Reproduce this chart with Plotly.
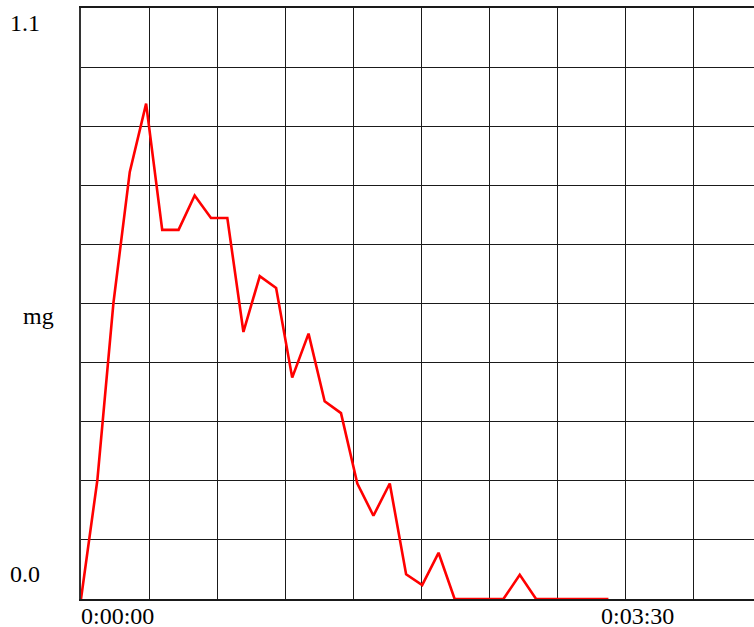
import plotly.graph_objects as go

# sample times in seconds
time_s = [0, 6.6, 13.1, 19.7, 26.3, 32.8, 39.4, 45.9, 52.5, 59.1, 65.6, 72.2,
          78.8, 85.3, 91.9, 98.4, 105.0, 111.6, 118.1, 124.7, 131.3, 137.8,
          144.4, 150.9, 157.5, 164.1, 170.6, 177.2, 183.8, 190.3, 196.9,
          203.4, 210.0, 213.0]
mg = [0.0, 0.221, 0.551, 0.795, 0.922, 0.687, 0.687, 0.751, 0.709, 0.709,
      0.497, 0.601, 0.579, 0.412, 0.494, 0.368, 0.346, 0.215, 0.155, 0.215,
      0.046, 0.026, 0.086, 0.0, 0.0, 0.0, 0.0, 0.045, 0.0, 0.0, 0.0, 0.0,
      0.0, 0.0]

x_labels = ["0:00:00", "0:03:30"]
x_label_pos = [0, 210]
y_labels = ["1.1", "mg", "0.0"]

FONT = "Liberation Serif"

fig = go.Figure()
fig.add_trace(go.Scatter(x=time_s, y=mg, mode="lines",
                         line=dict(color="#ff0000", width=2.6),
                         hoverinfo="skip", showlegend=False))

# body margin removed in post_script: figure coords = page coords
OFF = 0
W, H = 754, 627
L, T, B = 81, 8, 28
pw = W - L
ph = H - T - B


def px_x(p):
    return (p - OFF - L) / pw


def px_y(p):
    return (H - B - (p - OFF)) / ph


annotations = []
for lab, xp in zip(x_labels, x_label_pos):
    annotations.append(dict(x=xp, xref="x", y=px_y(616), yref="paper",
                            text=lab, showarrow=False, xanchor="left",
                            yanchor="middle", xshift=-2,
                            font=dict(family=FONT, size=24, color="black")))
annotations.append(dict(x=px_x(7.5), xref="paper", y=px_y(23), yref="paper",
                        text=y_labels[0], showarrow=False, xanchor="left",
                        yanchor="middle",
                        font=dict(family=FONT, size=24, color="black")))
annotations.append(dict(x=px_x(20.5), xref="paper", y=px_y(316), yref="paper",
                        text=y_labels[1], showarrow=False, xanchor="left",
                        yanchor="middle",
                        font=dict(family=FONT, size=24, color="black")))
annotations.append(dict(x=px_x(7.5), xref="paper", y=px_y(574), yref="paper",
                        text=y_labels[2], showarrow=False, xanchor="left",
                        yanchor="middle",
                        font=dict(family=FONT, size=24, color="black")))

fig.update_layout(
    width=W, height=H,
    margin=dict(l=L, r=0, t=T, b=B, pad=0),
    paper_bgcolor="white", plot_bgcolor="white",
    annotations=annotations,
    xaxis=dict(range=[0, 271.8], tick0=0, dtick=27.5, showticklabels=False,
               ticks="", showgrid=True, gridcolor="#1a1a1a", gridwidth=1,
               zeroline=False, showline=True, linecolor="#1a1a1a",
               linewidth=1.5, mirror=True, fixedrange=True),
    yaxis=dict(range=[0, 1.1], tick0=0, dtick=0.11, showticklabels=False,
               ticks="", showgrid=True, gridcolor="#1a1a1a", gridwidth=1,
               zeroline=False, showline=True, linecolor="#333333",
               linewidth=2, mirror=False, fixedrange=True),
)

fig.write_html("out.html", config={"displayModeBar": False},
               post_script="document.body.style.margin='0';"
                           "document.documentElement.style.overflow='hidden';"
                           "document.body.style.overflow='hidden';")
